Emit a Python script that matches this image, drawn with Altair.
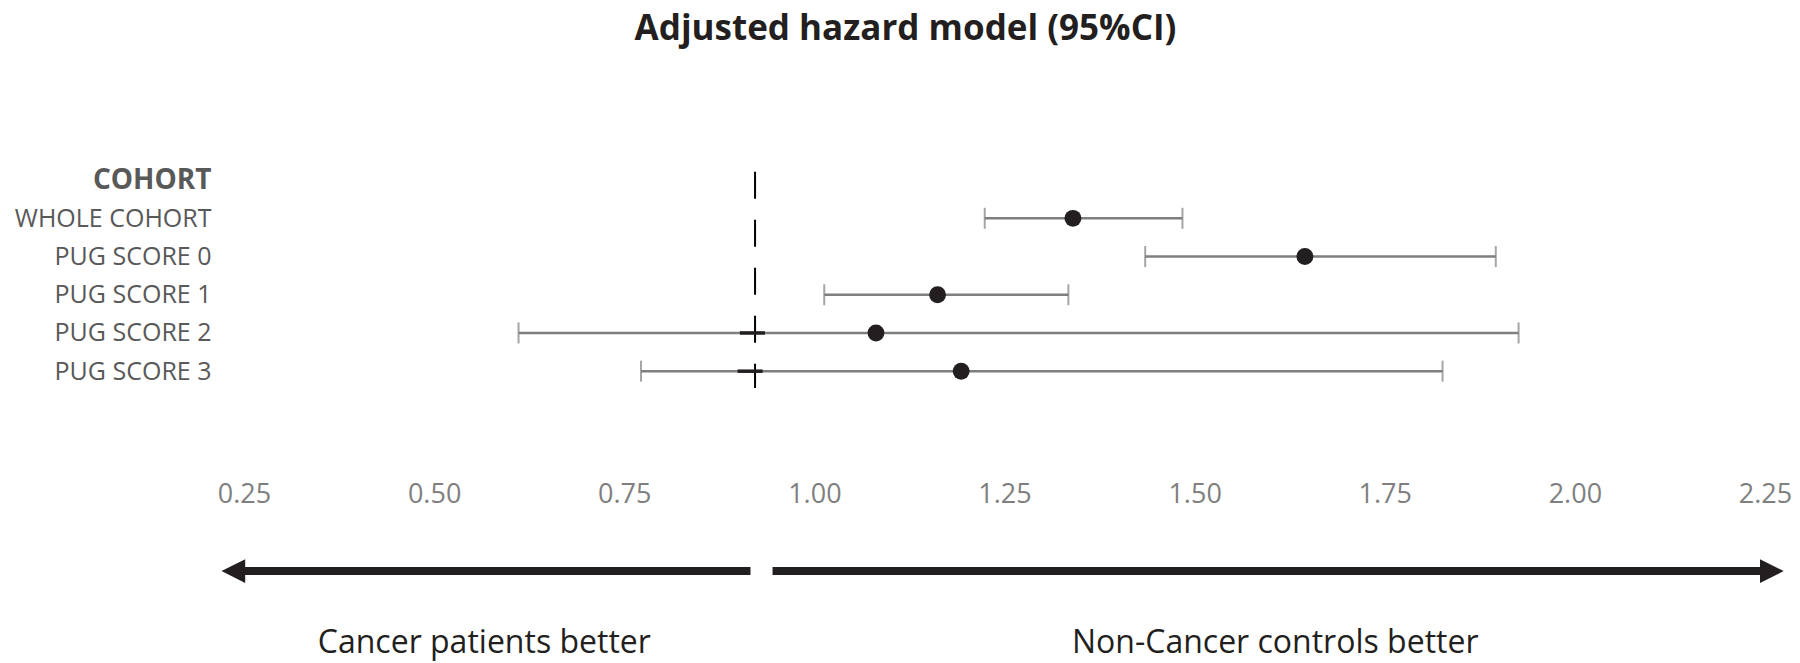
import altair as alt
import pandas as pd

# ---- data ----
cohorts = ["COHORT", "WHOLE COHORT", "PUG SCORE 0", "PUG SCORE 1", "PUG SCORE 2", "PUG SCORE 3"]
rows = ["WHOLE COHORT", "PUG SCORE 0", "PUG SCORE 1", "PUG SCORE 2", "PUG SCORE 3"]
hr = [1.34, 1.645, 1.162, 1.081, 1.193]
ci_low = [1.224, 1.435, 1.013, 0.611, 0.772]
ci_high = [1.484, 1.896, 1.334, 1.926, 1.826]
ref_line = [0.922]
x_ticks = [0.25, 0.50, 0.75, 1.00, 1.25, 1.50, 1.75, 2.00, 2.25]

# short dark strokes where the CI lines cross the reference line
cross_rows = ["PUG SCORE 2", "PUG SCORE 3"]
cross_lo = [0.902, 0.899]
cross_hi = [0.935, 0.932]

arrow_labels = ["Cancer patients better", "Non-Cancer controls better"]
arrow_inner = [0.916, 0.945]
arrow_outer = [0.236, 2.259]
label_x = [0.566, 1.606]

# annotation layout (row-index units on the y scale)
arrow_row = 10.23
label_row = 12.38
head_shapes = ["M-1,0L1,-1L1,1Z", "M1,0L-1,-1L-1,1Z"]

FONT = "Open Sans"
DARK = "#231f20"
GREY = "#7f7f7f"

df = pd.DataFrame({
    "cohort": rows,
    "row": [cohorts.index(r) for r in rows],
    "hr": hr,
    "lo": ci_low,
    "hi": ci_high,
})
ref_df = pd.DataFrame({"x": ref_line})
cross_df = pd.DataFrame({
    "row": [cohorts.index(r) for r in cross_rows],
    "lo": cross_lo,
    "hi": cross_hi,
})
arr_df = pd.DataFrame({
    "inner": arrow_inner,
    "outer": arrow_outer,
    "row": [arrow_row] * 2,
    "shape": head_shapes,
})
lab_df = pd.DataFrame({"text": arrow_labels, "x": label_x, "row": [label_row] * 2})

label_expr = "[" + ",".join("'" + c + "'" for c in cohorts) + "][datum.value]"

x_scale = alt.Scale(domain=[0.25, 2.25], nice=False, zero=False)
y_scale = alt.Scale(domain=[-0.22, 5.44], reverse=True, nice=False, zero=False)

x_axis = alt.Axis(
    values=x_ticks, format=".2f", title=None, grid=False, domain=False, ticks=False,
    labelFlush=False, labelFont=FONT, labelFontSize=27, labelColor=GREY, labelPadding=93,
)
y_axis = alt.Axis(
    values=list(range(len(cohorts))), labelExpr=label_expr, title=None, grid=False,
    domain=False, ticks=False, labelPadding=33, labelFont=FONT, labelLimit=0,
    labelFontSize={"condition": {"test": "datum.value === 0", "value": 28}, "value": 25},
    labelFontWeight={"condition": {"test": "datum.value === 0", "value": "bold"}, "value": "normal"},
    labelColor="#595959",
)

base = alt.Chart(df)

ci = base.mark_rule(color=GREY, strokeWidth=2.5).encode(
    x=alt.X("lo:Q", scale=x_scale, axis=x_axis),
    x2="hi:Q",
    y=alt.Y("row:Q", scale=y_scale, axis=y_axis),
)
cap_lo = base.mark_tick(color=GREY, thickness=2, size=21, orient="vertical").encode(
    x="lo:Q", y="row:Q"
)
cap_hi = base.mark_tick(color=GREY, thickness=2, size=21, orient="vertical").encode(
    x="hi:Q", y="row:Q"
)
ref = alt.Chart(ref_df).mark_rule(color="black", strokeWidth=2, strokeDash=[27, 21]).encode(
    x="x:Q"
)
cross = alt.Chart(cross_df).mark_rule(color=DARK, strokeWidth=3.5, strokeCap="butt").encode(
    x="lo:Q", x2="hi:Q", y="row:Q"
)
pts = base.mark_circle(color=DARK, size=285, opacity=1).encode(x="hr:Q", y="row:Q")

shafts = alt.Chart(arr_df).mark_rule(color=DARK, strokeWidth=8, strokeCap="butt").encode(
    x="inner:Q", x2="outer:Q", y="row:Q"
)
heads = alt.Chart(arr_df).mark_point(filled=True, color=DARK, opacity=1, size=560, strokeWidth=0).encode(
    x="outer:Q", y="row:Q", shape=alt.Shape("shape:N", scale=None)
)
labels = alt.Chart(lab_df).mark_text(
    font=FONT, fontSize=32, color=DARK, baseline="alphabetic", align="center"
).encode(x="x:Q", y="row:Q", text="text:N")

chart = alt.layer(ci, cap_lo, cap_hi, ref, cross, pts, shafts, heads, labels).properties(
    width=1521,
    height=216.3,
    background="white",
    title=alt.TitleParams(
        text="Adjusted hazard model (95%CI)", font=FONT, fontSize=35, fontWeight="bold",
        color=DARK, anchor="middle", dx=-99, offset=119,
    ),
    autosize=alt.AutoSizeParams(type="none"),
    padding={"left": 236, "top": 163.7, "right": 27, "bottom": 275},
).configure_view(stroke=None)

chart.save("out.html", embed_options={"renderer": "svg", "actions": False})
